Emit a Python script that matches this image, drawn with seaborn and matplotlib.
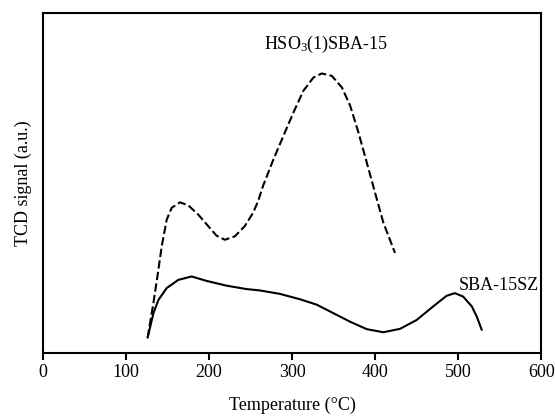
import numpy as np
import pandas as pd
import matplotlib
matplotlib.use("Agg")
import matplotlib.pyplot as plt
import seaborn as sns

# HSO3(1)SBA-15 (dashed)
hso3_temp = [126, 133, 139, 143, 149, 155, 165, 175, 187, 199, 209, 219, 231, 243, 253,
             259, 265, 277.5, 289.5, 301.6, 313.6, 325.7, 335.7, 347.8, 360, 370, 380,
             390, 400, 410, 424]
hso3_signal = [4.5, 14.7, 24.5, 31.4, 39.2, 42.7, 44.3, 43.4, 40.7, 37.3, 34.5, 33.3, 34.3,
               37.3, 41.2, 44.6, 49.1, 56.9, 63.8, 70.7, 77.1, 81.0, 82.2, 81.5, 78.1, 72.7,
               64.8, 56.0, 47.1, 38.3, 29.4]

# SBA-15SZ (solid)
sz_temp = [126, 133, 139, 149, 163, 179, 197, 221, 245, 261, 285, 309.6, 329.8, 349.8,
           369.9, 390, 410, 430, 450, 470, 486, 496, 506, 516.5, 522.5, 528.5]
sz_signal = [4.5, 11.7, 15.6, 19.1, 21.5, 22.5, 21.2, 19.8, 18.8, 18.4, 17.4, 15.8, 14.2,
             11.7, 9.2, 7.0, 6.1, 7.1, 9.7, 13.7, 16.8, 17.6, 16.6, 13.7, 10.7, 6.8]

x_ticks = [0, 100, 200, 300, 400, 500, 600]

sns.set_theme(style="white")
plt.rcParams['font.family'] = ['Liberation Serif', 'DejaVu Serif']
plt.rcParams['mathtext.fontset'] = 'custom'
plt.rcParams['mathtext.rm'] = 'Liberation Serif'
plt.rcParams['mathtext.it'] = 'Liberation Serif:italic'
plt.rcParams['text.color'] = 'black'
plt.rcParams['axes.labelcolor'] = 'black'
plt.rcParams['xtick.color'] = 'black'
plt.rcParams['ytick.color'] = 'black'

df = pd.concat([
    pd.DataFrame({"T": hso3_temp, "S": hso3_signal, "series": "HSO3"}),
    pd.DataFrame({"T": sz_temp, "S": sz_signal, "series": "SZ"}),
])

fig = plt.figure(figsize=(5.55, 4.17), dpi=100)
ax = fig.add_axes([0.0775, 0.1535, 0.8975, 0.8155])

sns.lineplot(data=df, x="T", y="S", hue="series", style="series",
             palette={"HSO3": "black", "SZ": "black"},
             dashes={"HSO3": (4, 1.6), "SZ": ""},
             linewidth=1.5, sort=False, estimator=None, legend=False, ax=ax)
for ln in ax.lines:
    ln.set_solid_joinstyle('round')
    ln.set_dash_joinstyle('round')

ax.set_xlim(0, 600)
ax.set_ylim(0, 100)
ax.set_xticks(x_ticks)
ax.set_xticklabels([str(t) for t in x_ticks], fontsize=13, color='black')
ax.set_yticks([])
ax.tick_params(axis='x', direction='out', length=5, width=1.5, color='black',
               labelcolor='black', bottom=True, pad=3)
for s in ax.spines.values():
    s.set_color('black')
    s.set_linewidth(1.5)

ax.set_xlabel("Temperature (°C)", fontsize=13, labelpad=11, color='black')
ax.set_ylabel("TCD signal (a.u.)", fontsize=13, labelpad=8, color='black')

ax.text(341, 90.8, "HSO$_3$(1)SBA-15", fontsize=13, ha='center', va='center', color='black')
ax.text(597, 19.9, "SBA-15SZ", fontsize=13, ha='right', va='center', color='black')

fig.savefig("out.png", dpi=100)
